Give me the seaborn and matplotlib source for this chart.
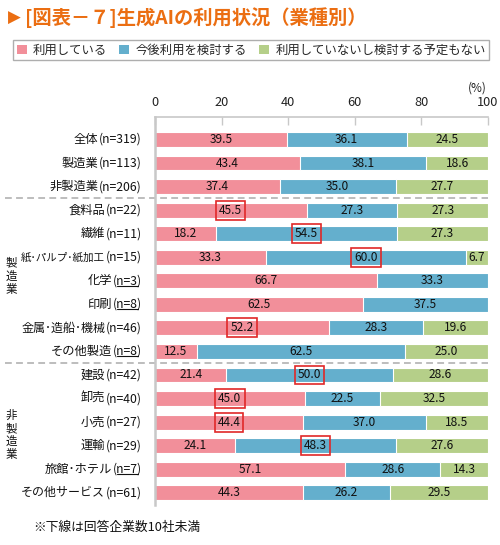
import matplotlib
matplotlib.use("Agg")
import matplotlib.pyplot as plt
import matplotlib.transforms as mtransforms
from matplotlib.patches import Patch
from matplotlib.lines import Line2D
import seaborn as sns
import pandas as pd
import numpy as np

# ---------------- data ----------------
categories = ["全体", "製造業", "非製造業", "食料品", "繊維", "紙･パルプ･紙加工",
              "化学", "印刷", "金属･造船･機械", "その他製造",
              "建設", "卸売", "小売", "運輸", "旅館･ホテル", "その他サービス"]
sample_n = [319, 113, 206, 22, 11, 15, 3, 8, 46, 8, 42, 40, 27, 29, 7, 61]
using = [39.5, 43.4, 37.4, 45.5, 18.2, 33.3, 66.7, 62.5, 52.2, 12.5,
         21.4, 45.0, 44.4, 24.1, 57.1, 44.3]
considering = [36.1, 38.1, 35.0, 27.3, 54.5, 60.0, 33.3, 37.5, 28.3, 62.5,
               50.0, 22.5, 37.0, 48.3, 28.6, 26.2]
not_using = [24.5, 18.6, 27.7, 27.3, 27.3, 6.7, 0.0, 0.0, 19.6, 25.0,
             28.6, 32.5, 18.5, 27.6, 14.3, 29.5]
series_names = ["利用している", "今後利用を検討する", "利用していないし検討する予定もない"]
highlight = [(3, 0), (4, 1), (5, 1), (8, 0), (10, 1), (11, 0), (12, 0), (13, 1)]
x_ticks = [0, 20, 40, 60, 80, 100]
group_labels = ["製造業", "非製造業"]
title = "[図表－７]生成AIの利用状況（業種別）"
footnote = "※下線は回答企業数10社未満"

colors = ["#F28F9A", "#64AFCD", "#B5CF89"]
orange = "#EB6E12"
grid_gray = "#C8C8C8"

# ---------------- style ----------------
sns.set_theme(style="white")
plt.rcParams['font.family'] = ['Noto Sans CJK JP', 'DejaVu Sans']

W, H = 500, 545
fig = plt.figure(figsize=(W / 100, H / 100), dpi=100)
ax_top, ax_bot = 117, 505
ax = fig.add_axes([155 / W, 1 - ax_bot / H, 333 / W, (ax_bot - ax_top) / H])

df = pd.DataFrame({
    "cat": categories,
    "s1": using,
    "s2": np.array(using) + np.array(considering),
    "s3": np.array(using) + np.array(considering) + np.array(not_using),
})
for col, c in [("s3", colors[2]), ("s2", colors[1]), ("s1", colors[0])]:
    sns.barplot(data=df, x=col, y="cat", orient="h", color=c, saturation=1,
                width=0.63, edgecolor="white", linewidth=0.8, errorbar=None, ax=ax)

ax.set_xlim(0, 100)
ax.set_ylim(15.52, -0.955)
ax.set_xlabel("")
ax.set_ylabel("")
ax.set_yticks([])
ax.xaxis.tick_top()
ax.set_xticks(x_ticks)
ax.set_xticklabels([str(t) for t in x_ticks])
ax.tick_params(axis="x", direction="in", length=6, width=1, color=grid_gray,
               labelsize=9.2, pad=6, labelcolor="#222222")
for s in ["right", "bottom"]:
    ax.spines[s].set_visible(False)
for s in ["top", "left"]:
    ax.spines[s].set_color(grid_gray)
    ax.spines[s].set_linewidth(1.2)
ax.spines["left"].set_linewidth(1.8)

# value labels
segs = [using, considering, not_using]
for i in range(len(categories)):
    start = 0.0
    for j in range(3):
        v = segs[j][i]
        if v > 0:
            kw = {}
            if (i, j) in highlight:
                kw["bbox"] = dict(boxstyle="square,pad=0.25", fc="none", ec="#E02828", lw=1.2)
            ax.text(start + v / 2, i, f"{v:.1f}", ha="center", va="center",
                    fontsize=8.6, color="#111111", **kw)
        start += v

# row labels: "(n=..)" part and name part
lab_tr = mtransforms.blended_transform_factory(ax.transAxes, ax.transData)
n_texts = []
for i, n in enumerate(sample_n):
    t = ax.text(-0.04, i, f"(n={n})", transform=lab_tr, ha="right", va="center",
                fontsize=8.8, color="#111111", clip_on=False)
    n_texts.append(t)

fig.canvas.draw()
renderer = fig.canvas.get_renderer()
name_tr = mtransforms.blended_transform_factory(fig.transFigure, ax.transData)
min_left = 21  # pixels from the left edge of the figure
for i, (cat, t) in enumerate(zip(categories, n_texts)):
    bb = t.get_window_extent(renderer)
    x_right = bb.x0 - 0.6
    fs = 8.8
    nt = fig.text(x_right / W, i, cat, ha="right", va="center", fontsize=fs,
                  color="#111111", transform=name_tr)
    w, _, _ = renderer.get_text_width_height_descent(cat, nt.get_fontproperties(), ismath=False)
    if x_right - w < min_left:
        nt.set_fontsize(fs * (x_right - min_left) / w)

# dashed separators
for yv in [2.5, 9.5]:
    ax.add_line(Line2D([-0.45, 1.0], [yv, yv], transform=lab_tr, color="#BDBDBD",
                       lw=1.4, linestyle=(0, (3.5, 2.2)), clip_on=False))

# group labels (vertical)
g_tr = mtransforms.blended_transform_factory(fig.transFigure, ax.transData)
for lab, yc in zip(group_labels, [5.8, 12.55]):
    fig.text(11 / W, yc, "\n".join(lab), transform=g_tr, ha="center", va="center",
             fontsize=8.3, linespacing=1.0, color="#111111")

# (%) label
fig.text(477 / W, 1 - 88 / H, "(%)", ha="center", va="center", fontsize=8.5, color="#222222")

# title
fig.text(8 / W, 1 - 18 / H, "▶", ha="left", va="center", fontsize=12, color=orange,
         family=['DejaVu Sans'])
fig.text(25 / W, 1 - 18 / H, title, ha="left", va="center", fontsize=13.9,
         color=orange, fontweight="bold")

# legend
handles = [Patch(facecolor=c, edgecolor="none") for c in colors]
leg = fig.legend(handles, series_names, loc="upper left", bbox_to_anchor=(13 / W, 1 - 40 / H),
                 ncol=3, frameon=True, fancybox=False, fontsize=8.9, handlelength=0.8,
                 handleheight=0.8, handletextpad=0.5, columnspacing=1.0, borderpad=0.3,
                 borderaxespad=0)
leg.get_frame().set_edgecolor("#9A9A9A")
leg.get_frame().set_linewidth(1.0)

# footnote
fig.text(33 / W, 1 - 527 / H, footnote, ha="left", va="center", fontsize=9.2, color="#111111")

# underline sample sizes below 10
fig.canvas.draw()
renderer = fig.canvas.get_renderer()
inv = fig.transFigure.inverted()
for t, n in zip(n_texts, sample_n):
    if n < 10:
        bb = t.get_window_extent(renderer)
        prop = t.get_fontproperties()
        w_par, _, _ = renderer.get_text_width_height_descent(")", prop, ismath=False)
        w_lp, _, _ = renderer.get_text_width_height_descent("(", prop, ismath=False)
        x0, x1 = bb.x0 + w_lp, bb.x1 - w_par
        y = bb.y0 + 1.5
        p0 = inv.transform((x0, y))
        p1 = inv.transform((x1, y))
        fig.add_artist(Line2D([p0[0], p1[0]], [p0[1], p1[1]], transform=fig.transFigure,
                              color="#111111", lw=0.8))

fig.savefig("out.png", dpi=100)
